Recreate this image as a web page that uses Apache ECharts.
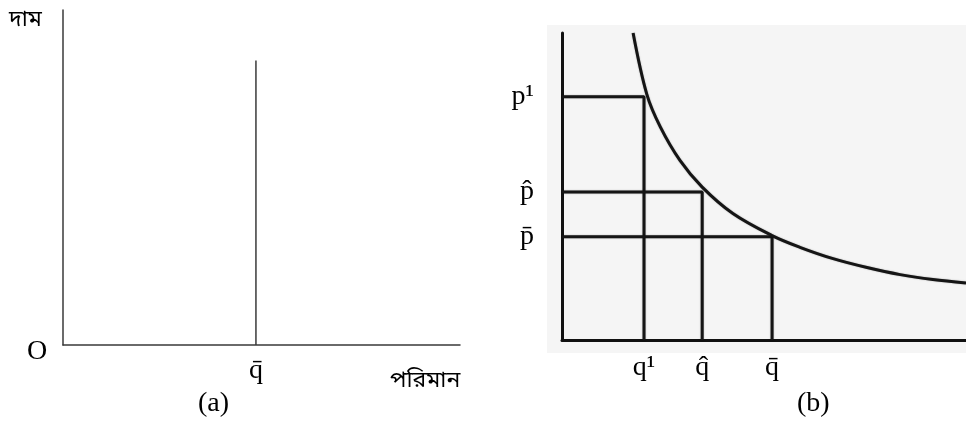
<!DOCTYPE html>
<html>
<head>
<meta charset="utf-8">
<script src="https://cdn.jsdelivr.net/npm/echarts@6/dist/echarts.min.js"></script>
<style>
  html, body { margin: 0; padding: 0; background: #fff; }
  #chart { width: 966px; height: 426px; }
</style>
</head>
<body>
<div id="chart"></div>
<script>
// Panel (a): fixed supply, a vertical line at q-bar
const supplyQ = 4.86;
const supplyTop = 8.49;
const supplyTickLabels = ['q\u0304'];

// Panel (b): unit-elastic demand curve (price vs quantity)
const curveQ = [1.76, 2.10, 2.43, 2.92, 3.47, 4.23, 5.20, 5.89, 6.71, 7.55, 8.37, 9.18, 10.0];
const curveP = [10.0, 8.00, 6.95, 5.85, 4.98, 4.12, 3.40, 3.02, 2.65, 2.36, 2.13, 1.97, 1.86];

// Price-quantity pairs whose revenue rectangles are drawn
const rectQ = [2.03, 3.47, 5.20];
const rectP = [7.92, 4.82, 3.36];
const qTickLabels = ['q\u00b9', 'q\u0302', 'q\u0304'];
const pTickLabels = ['p\u00b9', 'p\u0302', 'p\u0304'];

const serif = "'Liberation Serif', 'DejaVu Serif', serif";
const bengali = "'Noto Sans Bengali', 'Lohit Bengali', 'Noto Sans', sans-serif";

const chart = echarts.init(document.getElementById('chart'), null, { renderer: 'canvas' });

function labelFor(values, labels) {
  return function (v) {
    let best = 0;
    for (let i = 1; i < values.length; i++) {
      if (Math.abs(values[i] - v) < Math.abs(values[best] - v)) best = i;
    }
    return labels[best];
  };
}

const thinAxis = { lineStyle: { color: '#3a3a3a', width: 1.5 } };
const thickAxis = { lineStyle: { color: '#111', width: 3 } };
const inkLine = { color: '#151515', width: 3, shadowBlur: 1.5, shadowColor: 'rgba(0,0,0,0.35)' };

const rectSeries = rectQ.map((q, i) => ({
  type: 'line',
  xAxisIndex: 1, yAxisIndex: 1,
  data: [[0, rectP[i]], [q, rectP[i]], [q, 0]],
  symbol: 'none',
  silent: true,
  lineStyle: inkLine,
  z: 3
}));

const option = {
  animation: false,
  backgroundColor: '#ffffff',
  grid: [
    { left: 63, top: 10, width: 397, height: 335 },
    { left: 562, top: 33, width: 404, height: 307 }
  ],
  xAxis: [
    {
      gridIndex: 0, type: 'value', min: 0, max: 10,
      axisLine: { show: true, ...thinAxis },
      axisTick: { show: false },
      splitLine: { show: false },
      axisLabel: {
        customValues: [supplyQ],
        formatter: labelFor([supplyQ], supplyTickLabels),
        fontFamily: serif, fontSize: 28, color: '#000', margin: 12
      }
    },
    {
      gridIndex: 1, type: 'value', min: 0, max: 10,
      axisLine: { show: true, ...thickAxis },
      axisTick: { show: false },
      splitLine: { show: false },
      axisLabel: {
        customValues: rectQ,
        formatter: labelFor(rectQ, qTickLabels),
        fontFamily: serif, fontSize: 28, color: '#000', margin: 14
      }
    }
  ],
  yAxis: [
    {
      gridIndex: 0, type: 'value', min: 0, max: 10,
      axisLine: { show: true, ...thinAxis },
      axisTick: { show: false },
      splitLine: { show: false },
      axisLabel: { show: false }
    },
    {
      gridIndex: 1, type: 'value', min: 0, max: 10,
      axisLine: { show: true, ...thickAxis },
      axisTick: { show: false },
      splitLine: { show: false },
      axisLabel: {
        customValues: rectP,
        formatter: labelFor(rectP, pTickLabels),
        fontFamily: serif, fontSize: 28, color: '#000', margin: 28
      }
    }
  ],
  graphic: [
    { type: 'rect', z: -10, shape: { x: 547, y: 25, width: 419, height: 328 }, style: { fill: '#f5f5f5' } },
    { type: 'text', left: 9, top: 10, style: { text: 'দাম', font: '23px ' + bengali, fill: '#000' } },
    { type: 'text', left: 27, top: 338, style: { text: 'O', font: '28px ' + serif, fill: '#000' } },
    { type: 'text', left: 390, top: 371, style: { text: 'পরিমান', font: '23px ' + bengali, fill: '#000' } },
    { type: 'text', left: 198, top: 390, style: { text: '(a)', font: '28px ' + serif, fill: '#000' } },
    { type: 'text', left: 797, top: 390, style: { text: '(b)', font: '28px ' + serif, fill: '#000' } }
  ],
  series: [
    {
      type: 'line', xAxisIndex: 0, yAxisIndex: 0,
      data: [[supplyQ, 0], [supplyQ, supplyTop]],
      symbol: 'none', silent: true,
      lineStyle: { color: '#3a3a3a', width: 1.5 }
    },
    ...rectSeries,
    {
      type: 'line', xAxisIndex: 1, yAxisIndex: 1,
      data: curveQ.map((q, i) => [q, curveP[i]]),
      symbol: 'none', silent: true, smooth: 0.35,
      lineStyle: inkLine,
      z: 4
    }
  ]
};

chart.setOption(option);
</script>
</body>
</html>
